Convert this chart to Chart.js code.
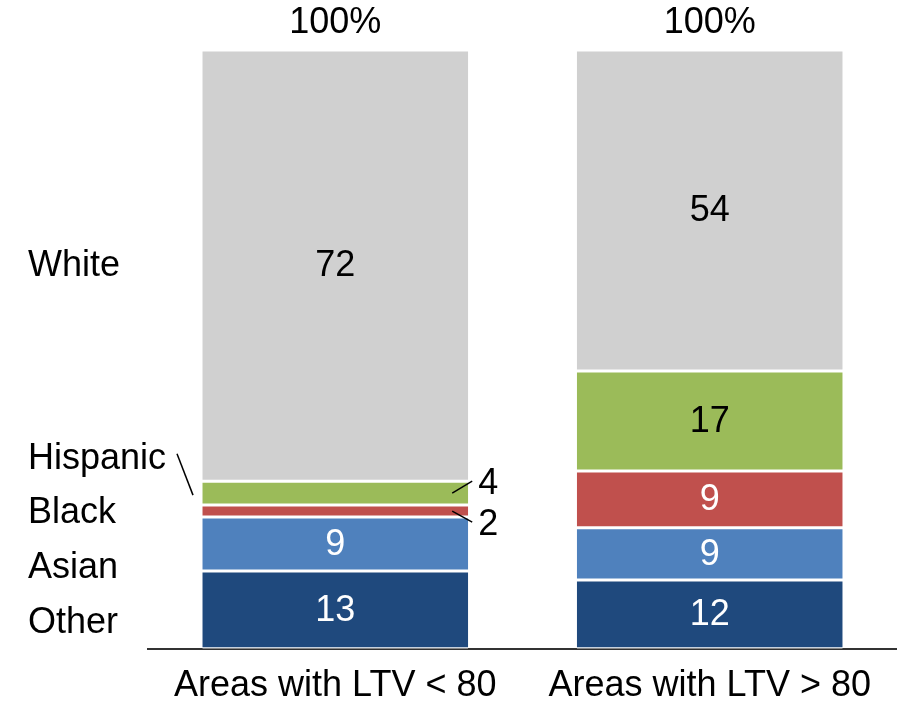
<!DOCTYPE html>
<html>
<head>
<meta charset="utf-8">
<script src="https://cdn.jsdelivr.net/npm/chart.js@4/dist/chart.umd.min.js"></script>
<style>
  html, body { margin: 0; padding: 0; background: #fff; }
  #wrap { width: 897px; height: 707px; }
</style>
</head>
<body>
<div id="wrap"><canvas id="chart"></canvas></div>
<script>
const categories = ['Areas with LTV < 80', 'Areas with LTV > 80'];
const seriesNames = ['Other', 'Asian', 'Black', 'Hispanic', 'White'];

// bar heights (percent of total)
const other = [13, 11.5];
const asian = [9, 8.7];
const black = [2, 9.5];
const hispanic = [4, 16.7];
const white = [72, 53.6];

// numbers printed on the chart
const otherLabels = ['13', '12'];
const asianLabels = ['9', '9'];
const blackLabels = ['2', '9'];
const hispanicLabels = ['4', '17'];
const whiteLabels = ['72', '54'];
const totalLabels = ['100%', '100%'];

const colors = ['#1F497D', '#4F81BD', '#C0504D', '#9BBB59', '#D0D0D0'];
const textColors = ['#fff', '#fff', '#fff', '#000', '#000'];
const FONT = '36px "Liberation Sans", Arial, sans-serif';

const values = [other, asian, black, hispanic, white];
const labels = [otherLabels, asianLabels, blackLabels, hispanicLabels, whiteLabels];

const datasets = seriesNames.map((name, i) => ({
  label: name,
  data: values[i],
  backgroundColor: colors[i],
  borderColor: '#fff',
  borderWidth: { top: 1.5, bottom: 1.5, left: 0, right: 0 },
  borderSkipped: false,
  barPercentage: 0.71,
  categoryPercentage: 1
}));

// segment labels, totals, left-hand series names and leader lines
const labelPlugin = {
  id: 'segLabels',
  afterDatasetsDraw(chart) {
    const ctx = chart.ctx;
    const y = chart.scales.y;
    ctx.save();
    ctx.font = FONT;
    ctx.textAlign = 'center';
    ctx.textBaseline = 'middle';

    chart.data.datasets.forEach((ds, i) => {
      const meta = chart.getDatasetMeta(i);
      meta.data.forEach((bar, j) => {
        const h = bar.base - bar.y;
        const txt = labels[i][j];
        if (h > 30) {
          ctx.fillStyle = textColors[i];
          ctx.fillText(txt, bar.x, (bar.y + bar.base) / 2 + 1);
        } else {
          // small segment: label outside with leader line
          const right = bar.x + bar.width / 2;
          const midY = (bar.y + bar.base) / 2;
          const ty = i === 3 ? midY - 10 : midY + 13;
          ctx.strokeStyle = '#000';
          ctx.lineWidth = 1.5;
          ctx.beginPath();
          ctx.moveTo(right - 16, midY);
          ctx.lineTo(right + 4, ty - 2);
          ctx.stroke();
          ctx.fillStyle = '#000';
          ctx.textAlign = 'left';
          ctx.fillText(txt, right + 10, ty + 1);
          ctx.textAlign = 'center';
        }
      });
    });

    // totals on top
    const topMeta = chart.getDatasetMeta(4);
    topMeta.data.forEach((bar, j) => {
      ctx.fillStyle = '#000';
      ctx.fillText(totalLabels[j], bar.x, bar.y - 27);
    });

    // series names on the left
    const namePos = { White: 64.1, Hispanic: 31.9, Black: 22.9, Asian: 13.7, Other: 4.5 };
    ctx.textAlign = 'left';
    ctx.fillStyle = '#000';
    seriesNames.forEach(n => {
      ctx.fillText(n, 28, y.getPixelForValue(namePos[n]) + 1);
    });

    // leader from "Hispanic" to its segment
    const hisBar = chart.getDatasetMeta(3).data[0];
    const hy = y.getPixelForValue(namePos.Hispanic);
    ctx.strokeStyle = '#000';
    ctx.lineWidth = 1.5;
    ctx.beginPath();
    ctx.moveTo(177, hy - 4);
    ctx.lineTo(193, (hisBar.y + hisBar.base) / 2 + 2);
    ctx.stroke();
    ctx.restore();
  }
};

new Chart(document.getElementById('chart'), {
  type: 'bar',
  data: { labels: categories, datasets: datasets },
  options: {
    responsive: true,
    maintainAspectRatio: false,
    animation: false,
    layout: { padding: { left: 148, top: 50, right: 0, bottom: -17 } },
    plugins: {
      legend: { display: false },
      tooltip: { enabled: false }
    },
    scales: {
      x: {
        stacked: true,
        grid: { display: false, drawTicks: false },
        border: { display: true, color: '#333', width: 2 },
        ticks: {
          color: '#000',
          padding: 16,
          font: { family: '"Liberation Sans", Arial, sans-serif', size: 36 }
        }
      },
      y: {
        stacked: true,
        display: false,
        min: 0,
        max: 100
      }
    }
  },
  plugins: [labelPlugin]
});
</script>
</body>
</html>
